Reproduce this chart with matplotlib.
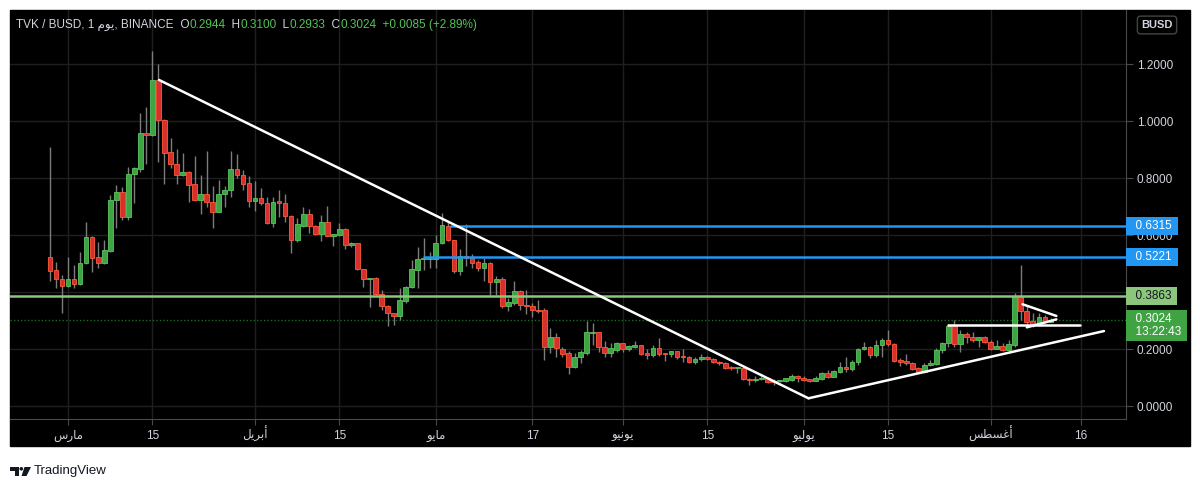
import numpy as np
import matplotlib
matplotlib.use('Agg')
import matplotlib.pyplot as plt
from matplotlib.patches import Rectangle, Polygon, Circle
from matplotlib.transforms import blended_transform_factory

W, H = 1200, 482
FONT = ['Liberation Sans', 'DejaVu Sans']

# daily candles TVK/BUSD, first candle = 26 Feb (day -3, day 0 = 1 Mar)
first_day = -3
opens = [.524, .477, .445, .421, .445, .428, .501, .594, .522, .501,
         .545, .723, .750, .662, .814, .830, .957, .950, 1.144, 1.004,
         .890, .849, .811, .821, .778, .723, .744, .717, .680, .743,
         .758, .830, .811, .781, .721, .729, .711, .641, .718, .713,
         .668, .582, .632, .674, .632, .604, .647, .598, .600, .621,
         .565, .571, .480, .444, .450, .393, .351, .326, .317, .370,
         .417, .478, .516, .517, .516, .573, .633, .582, .475, .527,
         .520, .504, .485, .501, .436, .446, .352, .363, .404, .356,
         .352, .337, .337, .206, .241, .199, .185, .138, .171, .187,
         .257, .259, .208, .187, .196, .220, .199, .207, .214, .185,
         .178, .202, .184, .181, .192, .175, .173, .155, .164, .173,
         .165, .155, .152, .136, .132, .133, .096, .091, .096, .099,
         .087, .087, .087, .091, .105, .099, .094, .089, .094, .115,
         .103, .120, .136, .129, .153, .199, .208, .179, .214, .232,
         .216, .160, .157, .152, .132, .120, .144, .148, .196, .220,
         .281, .218, .253, .243, .232, .241, .226, .200, .211, .196,
         .214, .382, .334, .298, .284, .311, .2944]
highs = [.910, .506, .460, .522, .495, .540, .647, .597, .577, .582,
         .740, .775, .770, .840, .838, 1.027, 1.048, 1.246, 1.200, 1.006,
         .939, .901, .887, .823, .877, .811, .896, .772, .793, .772,
         .895, .884, .828, .807, .791, .764, .732, .732, .758, .744,
         .670, .659, .699, .690, .635, .670, .702, .605, .641, .624,
         .574, .573, .482, .450, .453, .407, .355, .327, .415, .421,
         .512, .559, .591, .542, .600, .678, .647, .584, .550, .637,
         .534, .512, .518, .507, .455, .454, .378, .439, .407, .407,
         .360, .372, .343, .273, .255, .208, .194, .185, .196, .299,
         .292, .261, .229, .220, .226, .222, .214, .229, .214, .199,
         .214, .237, .185, .194, .194, .200, .175, .171, .181, .175,
         .167, .159, .155, .139, .137, .137, .099, .105, .105, .102,
         .093, .091, .100, .112, .108, .105, .096, .105, .120, .126,
         .126, .155, .173, .161, .202, .226, .211, .232, .237, .267,
         .220, .170, .182, .155, .136, .150, .161, .202, .226, .288,
         .302, .267, .260, .260, .243, .246, .232, .232, .220, .230,
         .398, .495, .351, .327, .327, .320, .3100]
lows = [.440, .413, .327, .419, .413, .424, .497, .471, .485, .498,
        .542, .626, .653, .653, .713, .822, .849, .946, .857, .779,
        .836, .779, .808, .717, .721, .674, .699, .623, .679, .699,
        .735, .799, .758, .699, .685, .707, .637, .629, .664, .647,
        .536, .577, .627, .608, .600, .580, .595, .561, .595, .550,
        .559, .477, .419, .348, .389, .337, .281, .284, .302, .360,
        .414, .415, .477, .483, .484, .570, .580, .468, .460, .491,
        .483, .474, .440, .389, .389, .343, .334, .354, .337, .323,
        .313, .327, .161, .187, .171, .171, .112, .132, .152, .179,
        .214, .191, .173, .173, .191, .191, .193, .202, .178, .164,
        .173, .175, .158, .172, .164, .155, .152, .147, .159, .161,
        .150, .144, .129, .127, .117, .091, .073, .085, .091, .082,
        .075, .085, .085, .089, .085, .089, .085, .088, .092, .099,
        .101, .117, .120, .124, .144, .197, .167, .173, .173, .211,
        .155, .140, .144, .126, .115, .117, .140, .144, .185, .208,
        .208, .191, .222, .226, .208, .222, .197, .199, .194, .194,
        .208, .301, .278, .278, .281, .292, .2933]
closes = [.474, .445, .421, .445, .428, .503, .594, .520, .501, .547,
          .723, .750, .662, .814, .834, .957, .950, 1.144, 1.004, .889,
          .849, .811, .821, .775, .723, .744, .717, .680, .744, .758,
          .830, .811, .778, .721, .729, .711, .641, .715, .713, .668,
          .582, .637, .674, .632, .604, .647, .598, .601, .621, .565,
          .571, .480, .444, .450, .393, .351, .325, .317, .372, .419,
          .480, .516, .520, .521, .573, .635, .582, .475, .526, .520,
          .503, .485, .502, .436, .446, .352, .364, .404, .354, .352,
          .337, .333, .208, .241, .202, .182, .138, .171, .188, .259,
          .259, .208, .187, .202, .220, .199, .211, .214, .181, .179,
          .202, .182, .182, .192, .173, .173, .155, .166, .173, .164,
          .153, .152, .134, .132, .133, .095, .091, .096, .099, .085,
          .085, .091, .097, .105, .097, .091, .089, .097, .115, .103,
          .124, .138, .129, .155, .200, .208, .179, .214, .232, .216,
          .158, .155, .152, .130, .120, .144, .150, .196, .220, .281,
          .218, .253, .241, .232, .241, .226, .200, .211, .196, .218,
          .384, .334, .296, .284, .311, .294, .3024]

# axis ticks
tick_days = [0, 14, 31, 45, 61, 77, 92, 106, 122, 136, 153, 168]
tick_words = ['مارس', '15', 'أبريل', '15', 'مايو', '17', 'يونيو', '15',
              'يوليو', '15', 'أغسطس', '16']
price_ticks = [0.0, 0.2, 0.4, 0.6, 0.8, 1.0, 1.2]

# drawn levels and trend lines (day, price, day, price)
blue_levels = [0.6315, 0.5221]
blue_from = [63.3, 58.9]
green_level = 0.3863
last_price = 0.3024
trend_lines = [(15.1, 1.144, 122.8, 0.027),
               (122.8, 0.027, 171.8, 0.263),
               (146.0, 0.284, 167.8, 0.284),
               (158.3, 0.357, 163.9, 0.316),
               (159.0, 0.276, 163.9, 0.304)]

# --- minimal arabic shaping (matplotlib has no bidi / joining) ---
FORMS = {
    'ا': ('\uFE8D', '\uFE8E', None, None),
    'أ': ('\uFE83', '\uFE84', None, None),
    'ب': ('\uFE8F', '\uFE90', '\uFE91', '\uFE92'),
    'ر': ('\uFEAD', '\uFEAE', None, None),
    'س': ('\uFEB1', '\uFEB2', '\uFEB3', '\uFEB4'),
    'ط': ('\uFEC1', '\uFEC2', '\uFEC3', '\uFEC4'),
    'غ': ('\uFECD', '\uFECE', '\uFECF', '\uFED0'),
    'ل': ('\uFEDD', '\uFEDE', '\uFEDF', '\uFEE0'),
    'م': ('\uFEE1', '\uFEE2', '\uFEE3', '\uFEE4'),
    'ن': ('\uFEE5', '\uFEE6', '\uFEE7', '\uFEE8'),
    'و': ('\uFEED', '\uFEEE', None, None),
    'ي': ('\uFEF1', '\uFEF2', '\uFEF3', '\uFEF4'),
}


def shape(word):
    if word[0] not in FORMS:
        return word
    out = []
    for i, ch in enumerate(word):
        iso, fin, ini, med = FORMS[ch]
        prev_j = i > 0 and FORMS[word[i - 1]][2] is not None
        next_j = i < len(word) - 1 and ini is not None
        if prev_j and next_j:
            out.append(med)
        elif prev_j:
            out.append(fin)
        elif next_j:
            out.append(ini)
        else:
            out.append(iso)
    return ''.join(reversed(out))


plt.rcParams['font.family'] = FONT

fig = plt.figure(figsize=(W / 100, H / 100), dpi=100, facecolor='white')
fig.patches.append(Rectangle((10 / W, 1 - 446 / H), 1180 / W, 436 / H,
                             transform=fig.transFigure, color='black', zorder=-10))

ax = fig.add_axes([10 / W, 1 - 419 / H, 1115.7 / W, 409 / H])
ax.set_facecolor('black')
ax.set_xlim(-9.62, 175.4)
ax.set_ylim(-0.0456, 1.3895)

ax.set_xticks(tick_days)
ax.set_xticklabels([shape(w) for w in tick_words])
for lbl in ax.get_xticklabels():
    lbl.set_verticalalignment('baseline')
ax.set_yticks(price_ticks)
# 0.4000 sits under the 0.3863 tag, like in the original
ax.set_yticklabels(['' if p == 0.4 else '%.4f' % p for p in price_ticks])
ax.yaxis.tick_right()
ax.grid(True, color='#1f1f1f', lw=1)
ax.set_axisbelow(True)
ax.tick_params(axis='x', length=4, color='#4a4a4a', labelcolor='#d1d4dc',
               labelsize=8.5, pad=10.5)
ax.tick_params(axis='y', length=5, color='#4a4a4a', labelcolor='#d1d4dc',
               labelsize=8.5, pad=3)
for side in ['top', 'left']:
    ax.spines[side].set_visible(False)
for side in ['bottom', 'right']:
    ax.spines[side].set_color('#4a4a4a')

# candles
o = np.array(opens)
h = np.array(highs)
l = np.array(lows)
c = np.array(closes)
days = np.arange(len(o)) + first_day
up = c >= o
ax.vlines(days, l, h, color='#7c7c7c', lw=1, zorder=2)
bot = np.minimum(o, c)
hgt = np.maximum(np.abs(c - o), 0.004)
ax.bar(days[up], hgt[up], bottom=bot[up], width=0.78, color='#3ea342',
       edgecolor='#5cc460', lw=0.6, zorder=3)
ax.bar(days[~up], hgt[~up], bottom=bot[~up], width=0.78, color='#d6302c',
       edgecolor='#ff5a3a', lw=0.6, zorder=3)

# levels
for lev, start in zip(blue_levels, blue_from):
    ax.hlines(lev, start, 175.4, color='#2196f3', lw=1.8, zorder=4)
ax.axhline(green_level, color='#8cc57c', lw=1.8, zorder=4)
ax.axhline(last_price, color='#1d6b24', lw=1, ls=(0, (1, 1.5)), zorder=1)

for d0, p0, d1, p1 in trend_lines:
    ax.plot([d0, d1], [p0, p1], color='white', lw=1.8, zorder=5,
            solid_capstyle='round')

# price labels on the right scale
tr = blended_transform_factory(ax.transAxes, ax.transData)
x_lab = 1 + 3 / 1115.7
for lev in blue_levels:
    ax.text(x_lab, lev, '  %.4f ' % lev, transform=tr, ha='left', va='center',
            fontsize=8.5, color='white', clip_on=False, zorder=10,
            bbox=dict(boxstyle='square,pad=0.25', fc='#2196f3', ec='none'))
ax.text(x_lab, green_level, '  %.4f ' % green_level, transform=tr, ha='left',
        va='center', fontsize=8.5, color='#131722', clip_on=False, zorder=10,
        bbox=dict(boxstyle='square,pad=0.25', fc='#8cc57c', ec='none'))
ax.annotate('  %.4f\n  13:22:43 ' % last_price, xy=(x_lab, last_price),
            xycoords=tr, xytext=(0, -6), textcoords='offset pixels',
            ha='left', va='center', fontsize=8.5, color='white',
            linespacing=1.15, annotation_clip=False, zorder=10,
            bbox=dict(boxstyle='square,pad=0.25', fc='#3fa343', ec='none'))

fig.text(1157 / W, 1 - 25 / H, 'BUSD', ha='center', va='center', fontsize=8,
         color='#d1d4dc', fontweight='bold',
         bbox=dict(boxstyle='round,pad=0.35,rounding_size=0.3', fc='black',
                   ec='#444444'))

# header row
GREEN = '#52c357'
LIGHT = '#d1d4dc'
pieces = [('TVK / BUSD, 1 ' + shape('يوم') + ', BINANCE', LIGHT),
          ('  O', LIGHT), ('0.2944', GREEN),
          ('  H', LIGHT), ('0.3100', GREEN),
          ('  L', LIGHT), ('0.2933', GREEN),
          ('  C', LIGHT), ('0.3024', GREEN),
          ('  +0.0085 (+2.89%)', GREEN)]
renderer = fig.canvas.get_renderer()
x = 16
for txt, col in pieces:
    t = fig.text(x / W, 1 - 25 / H, txt, color=col, fontsize=8.5,
                 ha='left', va='center')
    x += t.get_window_extent(renderer=renderer).width

# TradingView logo
lax = fig.add_axes([10 / W, 1 - 476 / H, 21 / W, 9 / H])
lax.set_xlim(0, 21)
lax.set_ylim(0, 9)
lax.axis('off')
lax.add_patch(Polygon([(0, 9), (8.5, 9), (8.5, 0), (4.5, 0), (4.5, 5.5), (0, 5.5)],
                      closed=True, fc='#131722', ec='none'))
lax.add_patch(Circle((11.3, 7.2), 1.8, fc='#131722', ec='none'))
lax.add_patch(Polygon([(14.5, 9), (21, 9), (16.5, 0), (11.5, 0)],
                      closed=True, fc='#131722', ec='none'))
fig.text(34 / W, 1 - 471 / H, 'TradingView', ha='left', va='center',
         fontsize=9.5, color='#131722')

fig.savefig('out.png', dpi=100, facecolor='white')
